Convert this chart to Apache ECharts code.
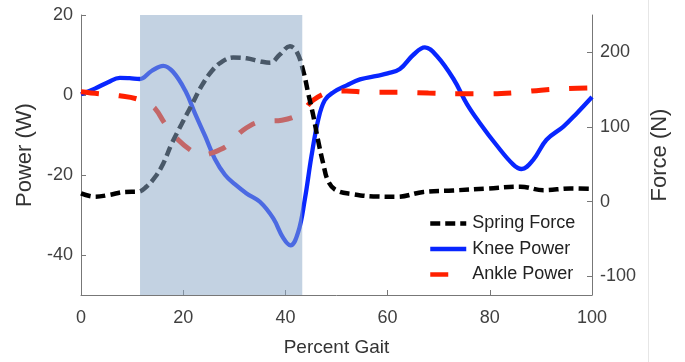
<!DOCTYPE html>
<html>
<head>
<meta charset="utf-8">
<script src="https://cdn.jsdelivr.net/npm/echarts@6/dist/echarts.min.js"></script>
<style>html,body{margin:0;padding:0;background:#fff;}#c{width:685px;height:362px;}</style>
</head>
<body>
<div id="c"></div>
<script>
// Percent gait tick labels
const xTicks = [0, 20, 40, 60, 80, 100];
const powerTicks = [-40, -20, 0, 20];
const forceTicks = [-100, 0, 100, 200];

// Spring Force (N), right axis
const springX = [0, 2.7, 5.5, 8.6, 11.2, 12.8, 14.5, 16.1, 17.7, 19.7, 21.7, 23.6, 25.6, 27.5, 29.8, 32.4, 35, 37, 38.9, 40.9, 42.2, 43.5, 44.5, 45.4, 46.4, 47.4, 48.4, 50, 53.3, 57.2, 61.8, 67, 72.8, 79.4, 86, 90.5, 95.8, 100];
const springY = [11, 6.6, 9, 13, 13.3, 20, 33, 51, 77, 104, 130, 155, 175, 187, 193, 192, 188, 186, 197, 208, 201, 175, 144, 117, 82, 51, 27, 15, 10, 7, 6.6, 13, 15, 17.6, 20, 15.4, 17.6, 17];

// Knee Power (W), left axis
const kneeX = [0, 2.7, 5.3, 7.6, 9.5, 11.5, 13.8, 16.1, 18, 20.4, 22.3, 24.3, 26.2, 28.2, 30.1, 32.4, 35, 37.6, 39.6, 41, 42.5, 43.8, 45.1, 46.4, 47.7, 49.4, 52, 54.6, 57.9, 60, 62.4, 65, 67.3, 69.6, 72.9, 75.5, 78.1, 81.3, 84.6, 86.2, 88.5, 91.1, 94.4, 97, 100];
const kneeY = [0.2, 1.6, 3.2, 4.3, 4.2, 4.0, 6.0, 7.3, 5.8, 1.1, -4.6, -10.3, -16.0, -20.0, -22.3, -24.6, -26.7, -30.8, -35.8, -37.6, -34.3, -26.1, -15.3, -6.3, -1.3, 0.7, 2.4, 3.9, 4.8, 5.4, 6.5, 10.0, 11.9, 9.8, 4.0, -2.2, -7.1, -12.5, -17.4, -18.5, -16.2, -11.2, -7.9, -4.6, -0.5];

// Ankle Power (W), left axis
const ankleX = [0, 3.5, 7.6, 11, 13, 14.5, 16.4, 19, 21.7, 23.5, 25.6, 28.8, 31.7, 35.4, 39.3, 42.9, 45.4, 48.7, 52, 56, 62, 68, 74, 80, 85, 90, 95, 100];
const ankleY = [0.8, 0.3, -0.2, -1.0, -2.3, -3.4, -7.1, -11.2, -14, -15, -14.5, -12.5, -8.8, -6.6, -6.3, -4.6, -1.3, 0.7, 1, 0.7, 0.7, 0.5, 0.3, 0.3, 0.6, 1.2, 1.6, 1.8];

// Shaded stance window (percent gait)
const shade = [11.55, 43.3];

const seriesNames = ['Spring Force', 'Knee Power', 'Ankle Power'];

const zip = (xs, ys) => xs.map((x, i) => [x, ys[i]]);
const FONT = 'Liberation Sans, Arial, sans-serif';

const chart = echarts.init(document.getElementById('c'), null, {renderer: 'canvas'});
chart.setOption({
  animation: false,
  backgroundColor: '#fff',
  grid: {left: 81, right: 93, top: 15, bottom: 64.5, containLabel: false},
  legend: {
    data: seriesNames,
    orient: 'vertical',
    left: 423, top: 209.5,
    itemWidth: 36, itemHeight: 14, itemGap: 7.5,
    itemStyle: {opacity: 0},
    lineStyle: {width: 4.5},
    textStyle: {fontFamily: FONT, fontSize: 18, color: '#222', lineHeight: 18, padding: [0,0,0,1]},
    selectedMode: false
  },
  xAxis: {
    type: 'value', min: 0, max: 100, interval: 20,
    name: 'Percent Gait', nameLocation: 'middle', nameGap: 43,
    nameTextStyle: {fontFamily: FONT, fontSize: 19, color: '#333'},
    axisLine: {show: true, onZero: false, lineStyle: {color: '#777', width: 1}},
    axisTick: {show: true, inside: true, length: 5, lineStyle: {color: '#777'}},
    axisLabel: {fontFamily: FONT, fontSize: 18, color: '#404040', margin: 14, customValues: xTicks},
    splitLine: {show: false}
  },
  yAxis: [{
    type: 'value', min: -50, max: 20, position: 'left',
    name: 'Power (W)', nameLocation: 'middle', nameGap: 39, nameRotate: 90,
    nameTextStyle: {fontFamily: FONT, fontSize: 22, color: '#333'},
    axisLine: {show: true, onZero: false, lineStyle: {color: '#777', width: 1}},
    axisTick: {show: true, inside: true, length: 5, lineStyle: {color: '#777'}, customValues: powerTicks},
    axisLabel: {fontFamily: FONT, fontSize: 18, color: '#404040', margin: 8, customValues: powerTicks},
    splitLine: {show: false}
  }, {
    type: 'value', min: -125, max: 250, position: 'right',
    name: 'Force (N)', nameLocation: 'middle', nameGap: 57, nameRotate: 90,
    nameTextStyle: {fontFamily: FONT, fontSize: 22, color: '#333'},
    axisLine: {show: true, onZero: false, lineStyle: {color: '#777', width: 1}},
    axisTick: {show: true, inside: true, length: 5, lineStyle: {color: '#777'}, customValues: forceTicks},
    axisLabel: {fontFamily: FONT, fontSize: 18, color: '#404040', margin: 8, customValues: forceTicks},
    splitLine: {show: false}
  }],
  graphic: [{
    type: 'line', shape: {x1: 648.5, y1: 0, x2: 648.5, y2: 362},
    style: {stroke: '#e6e6e6', lineWidth: 1}, silent: true
  }],
  series: [{
    name: seriesNames[0], type: 'line', yAxisIndex: 1, data: zip(springX, springY),
    smooth: 0.4, showSymbol: false, symbol: 'none', z: 3,
    lineStyle: {color: '#000', width: 4.5, type: [10, 5]}, itemStyle: {color: '#000'}
  }, {
    name: seriesNames[1], type: 'line', yAxisIndex: 0, data: zip(kneeX, kneeY),
    smooth: 0.4, showSymbol: false, symbol: 'none', z: 2,
    lineStyle: {color: '#0826ff', width: 4.3}, itemStyle: {color: '#0826ff'}
  }, {
    name: seriesNames[2], type: 'line', yAxisIndex: 0, data: zip(ankleX, ankleY),
    smooth: 0.4, showSymbol: false, symbol: 'none', z: 2,
    lineStyle: {color: '#ff2000', width: 5, type: [18, 20]}, itemStyle: {color: '#ff2000'}
  }, {
    name: 'shade', type: 'line', yAxisIndex: 0, data: [], z: 10, silent: true,
    markArea: {
      silent: true, z: 20,
      itemStyle: {color: 'rgba(140,169,200,0.52)'},
      data: [[{xAxis: shade[0]}, {xAxis: shade[1]}]]
    }
  }]
});
</script>
</body>
</html>
